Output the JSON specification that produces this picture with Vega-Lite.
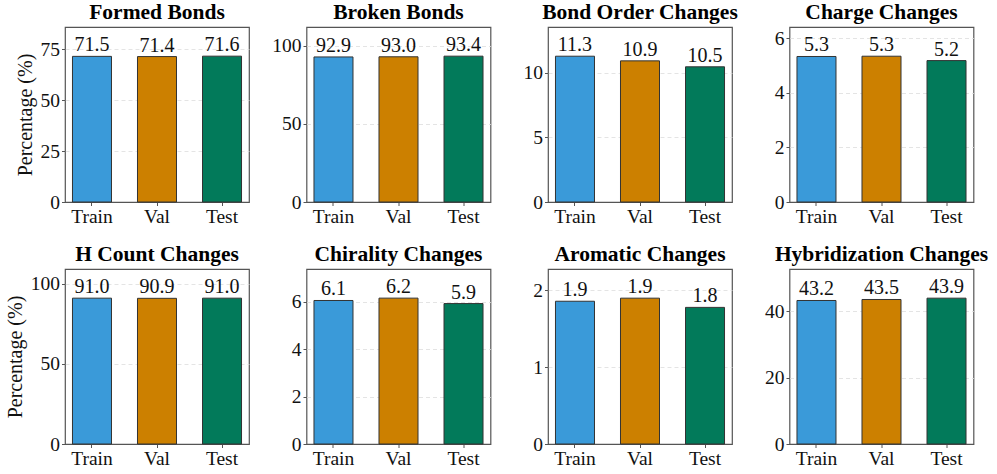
{
  "$schema": "https://vega.github.io/schema/vega-lite/v6.json",
  "padding": {"left": 4, "top": 0, "right": 0, "bottom": 0},
  "background": "white",
  "data": {"values": [
    {"panel": "Formed Bonds", "split": "Train", "value": 71.5},
    {"panel": "Formed Bonds", "split": "Val", "value": 71.4},
    {"panel": "Formed Bonds", "split": "Test", "value": 71.6},
    {"panel": "Broken Bonds", "split": "Train", "value": 92.9},
    {"panel": "Broken Bonds", "split": "Val", "value": 93.0},
    {"panel": "Broken Bonds", "split": "Test", "value": 93.4},
    {"panel": "Bond Order Changes", "split": "Train", "value": 11.28},
    {"panel": "Bond Order Changes", "split": "Val", "value": 10.92},
    {"panel": "Bond Order Changes", "split": "Test", "value": 10.46},
    {"panel": "Charge Changes", "split": "Train", "value": 5.33},
    {"panel": "Charge Changes", "split": "Val", "value": 5.34},
    {"panel": "Charge Changes", "split": "Test", "value": 5.18},
    {"panel": "H Count Changes", "split": "Train", "value": 91.0},
    {"panel": "H Count Changes", "split": "Val", "value": 90.9},
    {"panel": "H Count Changes", "split": "Test", "value": 91.0},
    {"panel": "Chirality Changes", "split": "Train", "value": 6.06},
    {"panel": "Chirality Changes", "split": "Val", "value": 6.16},
    {"panel": "Chirality Changes", "split": "Test", "value": 5.93},
    {"panel": "Aromatic Changes", "split": "Train", "value": 1.86},
    {"panel": "Aromatic Changes", "split": "Val", "value": 1.9},
    {"panel": "Aromatic Changes", "split": "Test", "value": 1.78},
    {"panel": "Hybridization Changes", "split": "Train", "value": 43.2},
    {"panel": "Hybridization Changes", "split": "Val", "value": 43.5},
    {"panel": "Hybridization Changes", "split": "Test", "value": 43.9}
  ]},
  "columns": 4,
  "bounds": "flush",
  "spacing": {"row": 67, "column": 57.5},
  "resolve": {"scale": {"y": "independent", "x": "independent"}},
  "concat": [
    {
      "title": "Formed Bonds", "width": 184, "height": 175,
      "transform": [{"filter": "datum.panel === 'Formed Bonds'"}],
      "encoding": {
        "x": {"field": "split", "type": "nominal", "sort": ["Train", "Val", "Test"], "scale": {"paddingInner": 0.4, "paddingOuter": 0.115}, "axis": {"title": null, "labelAngle": 0}},
        "y": {"field": "value", "type": "quantitative", "scale": {"domain": [0, 85.92], "nice": false}, "axis": {"values": [0, 25, 50, 75], "title": "Percentage (%)"}}
      },
      "layer": [
        {"mark": {"type": "bar", "stroke": "#333333", "strokeWidth": 1}, "encoding": {"color": {"field": "split", "type": "nominal", "scale": {"domain": ["Train", "Val", "Test"], "range": ["#3A9AD9", "#CC8000", "#027A5A"]}, "legend": null}}},
        {"mark": {"type": "text", "baseline": "alphabetic", "dy": -5, "fontSize": 20, "color": "#111111"}, "encoding": {"text": {"field": "value", "type": "quantitative", "format": ".1f"}}}
      ]
    },
    {
      "title": "Broken Bonds", "width": 184, "height": 175,
      "transform": [{"filter": "datum.panel === 'Broken Bonds'"}],
      "encoding": {
        "x": {"field": "split", "type": "nominal", "sort": ["Train", "Val", "Test"], "scale": {"paddingInner": 0.4, "paddingOuter": 0.115}, "axis": {"title": null, "labelAngle": 0}},
        "y": {"field": "value", "type": "quantitative", "scale": {"domain": [0, 112.08], "nice": false}, "axis": {"values": [0, 50, 100], "title": null}}
      },
      "layer": [
        {"mark": {"type": "bar", "stroke": "#333333", "strokeWidth": 1}, "encoding": {"color": {"field": "split", "type": "nominal", "scale": {"domain": ["Train", "Val", "Test"], "range": ["#3A9AD9", "#CC8000", "#027A5A"]}, "legend": null}}},
        {"mark": {"type": "text", "baseline": "alphabetic", "dy": -5, "fontSize": 20, "color": "#111111"}, "encoding": {"text": {"field": "value", "type": "quantitative", "format": ".1f"}}}
      ]
    },
    {
      "title": "Bond Order Changes", "width": 184, "height": 175,
      "transform": [{"filter": "datum.panel === 'Bond Order Changes'"}],
      "encoding": {
        "x": {"field": "split", "type": "nominal", "sort": ["Train", "Val", "Test"], "scale": {"paddingInner": 0.4, "paddingOuter": 0.115}, "axis": {"title": null, "labelAngle": 0}},
        "y": {"field": "value", "type": "quantitative", "scale": {"domain": [0, 13.54], "nice": false}, "axis": {"values": [0, 5, 10], "title": null}}
      },
      "layer": [
        {"mark": {"type": "bar", "stroke": "#333333", "strokeWidth": 1}, "encoding": {"color": {"field": "split", "type": "nominal", "scale": {"domain": ["Train", "Val", "Test"], "range": ["#3A9AD9", "#CC8000", "#027A5A"]}, "legend": null}}},
        {"mark": {"type": "text", "baseline": "alphabetic", "dy": -5, "fontSize": 20, "color": "#111111"}, "encoding": {"text": {"field": "value", "type": "quantitative", "format": ".1f"}}}
      ]
    },
    {
      "title": "Charge Changes", "width": 184, "height": 175,
      "transform": [{"filter": "datum.panel === 'Charge Changes'"}],
      "encoding": {
        "x": {"field": "split", "type": "nominal", "sort": ["Train", "Val", "Test"], "scale": {"paddingInner": 0.4, "paddingOuter": 0.115}, "axis": {"title": null, "labelAngle": 0}},
        "y": {"field": "value", "type": "quantitative", "scale": {"domain": [0, 6.41], "nice": false}, "axis": {"values": [0, 2, 4, 6], "title": null}}
      },
      "layer": [
        {"mark": {"type": "bar", "stroke": "#333333", "strokeWidth": 1}, "encoding": {"color": {"field": "split", "type": "nominal", "scale": {"domain": ["Train", "Val", "Test"], "range": ["#3A9AD9", "#CC8000", "#027A5A"]}, "legend": null}}},
        {"mark": {"type": "text", "baseline": "alphabetic", "dy": -5, "fontSize": 20, "color": "#111111"}, "encoding": {"text": {"field": "value", "type": "quantitative", "format": ".1f"}}}
      ]
    },
    {
      "title": "H Count Changes", "width": 184, "height": 175,
      "transform": [{"filter": "datum.panel === 'H Count Changes'"}],
      "encoding": {
        "x": {"field": "split", "type": "nominal", "sort": ["Train", "Val", "Test"], "scale": {"paddingInner": 0.4, "paddingOuter": 0.115}, "axis": {"title": null, "labelAngle": 0}},
        "y": {"field": "value", "type": "quantitative", "scale": {"domain": [0, 109.2], "nice": false}, "axis": {"values": [0, 50, 100], "title": "Percentage (%)"}}
      },
      "layer": [
        {"mark": {"type": "bar", "stroke": "#333333", "strokeWidth": 1}, "encoding": {"color": {"field": "split", "type": "nominal", "scale": {"domain": ["Train", "Val", "Test"], "range": ["#3A9AD9", "#CC8000", "#027A5A"]}, "legend": null}}},
        {"mark": {"type": "text", "baseline": "alphabetic", "dy": -5, "fontSize": 20, "color": "#111111"}, "encoding": {"text": {"field": "value", "type": "quantitative", "format": ".1f"}}}
      ]
    },
    {
      "title": "Chirality Changes", "width": 184, "height": 175,
      "transform": [{"filter": "datum.panel === 'Chirality Changes'"}],
      "encoding": {
        "x": {"field": "split", "type": "nominal", "sort": ["Train", "Val", "Test"], "scale": {"paddingInner": 0.4, "paddingOuter": 0.115}, "axis": {"title": null, "labelAngle": 0}},
        "y": {"field": "value", "type": "quantitative", "scale": {"domain": [0, 7.39], "nice": false}, "axis": {"values": [0, 2, 4, 6], "title": null}}
      },
      "layer": [
        {"mark": {"type": "bar", "stroke": "#333333", "strokeWidth": 1}, "encoding": {"color": {"field": "split", "type": "nominal", "scale": {"domain": ["Train", "Val", "Test"], "range": ["#3A9AD9", "#CC8000", "#027A5A"]}, "legend": null}}},
        {"mark": {"type": "text", "baseline": "alphabetic", "dy": -5, "fontSize": 20, "color": "#111111"}, "encoding": {"text": {"field": "value", "type": "quantitative", "format": ".1f"}}}
      ]
    },
    {
      "title": "Aromatic Changes", "width": 184, "height": 175,
      "transform": [{"filter": "datum.panel === 'Aromatic Changes'"}],
      "encoding": {
        "x": {"field": "split", "type": "nominal", "sort": ["Train", "Val", "Test"], "scale": {"paddingInner": 0.4, "paddingOuter": 0.115}, "axis": {"title": null, "labelAngle": 0}},
        "y": {"field": "value", "type": "quantitative", "scale": {"domain": [0, 2.28], "nice": false}, "axis": {"values": [0, 1, 2], "title": null}}
      },
      "layer": [
        {"mark": {"type": "bar", "stroke": "#333333", "strokeWidth": 1}, "encoding": {"color": {"field": "split", "type": "nominal", "scale": {"domain": ["Train", "Val", "Test"], "range": ["#3A9AD9", "#CC8000", "#027A5A"]}, "legend": null}}},
        {"mark": {"type": "text", "baseline": "alphabetic", "dy": -5, "fontSize": 20, "color": "#111111"}, "encoding": {"text": {"field": "value", "type": "quantitative", "format": ".1f"}}}
      ]
    },
    {
      "title": "Hybridization Changes", "width": 184, "height": 175,
      "transform": [{"filter": "datum.panel === 'Hybridization Changes'"}],
      "encoding": {
        "x": {"field": "split", "type": "nominal", "sort": ["Train", "Val", "Test"], "scale": {"paddingInner": 0.4, "paddingOuter": 0.115}, "axis": {"title": null, "labelAngle": 0}},
        "y": {"field": "value", "type": "quantitative", "scale": {"domain": [0, 52.68], "nice": false}, "axis": {"values": [0, 20, 40], "title": null}}
      },
      "layer": [
        {"mark": {"type": "bar", "stroke": "#333333", "strokeWidth": 1}, "encoding": {"color": {"field": "split", "type": "nominal", "scale": {"domain": ["Train", "Val", "Test"], "range": ["#3A9AD9", "#CC8000", "#027A5A"]}, "legend": null}}},
        {"mark": {"type": "text", "baseline": "alphabetic", "dy": -5, "fontSize": 20, "color": "#111111"}, "encoding": {"text": {"field": "value", "type": "quantitative", "format": ".1f"}}}
      ]
    }
  ],
  "config": {
    "font": "Liberation Serif",
    "view": {"stroke": "#555555", "strokeWidth": 1.2},
    "title": {"fontSize": 21.5, "fontWeight": "bold", "color": "#000000", "baseline": "alphabetic", "offset": 4, "anchor": "middle"},
    "axis": {
      "domain": false,
      "labelFontSize": 19.5,
      "labelColor": "#111111",
      "labelPadding": 2,
      "tickColor": "#555555",
      "tickSize": 3.5,
      "titleFontSize": 20,
      "titleFontWeight": "normal",
      "titleColor": "#111111",
      "titlePadding": 5
    },
    "axisX": {"grid": false, "labelPadding": 2},
    "axisY": {"grid": true, "gridColor": "#dddddd", "gridDash": [4, 3], "gridWidth": 0.8, "gridOpacity": {"condition": {"test": "datum.value === 0", "value": 0}, "value": 1}}
  }
}
